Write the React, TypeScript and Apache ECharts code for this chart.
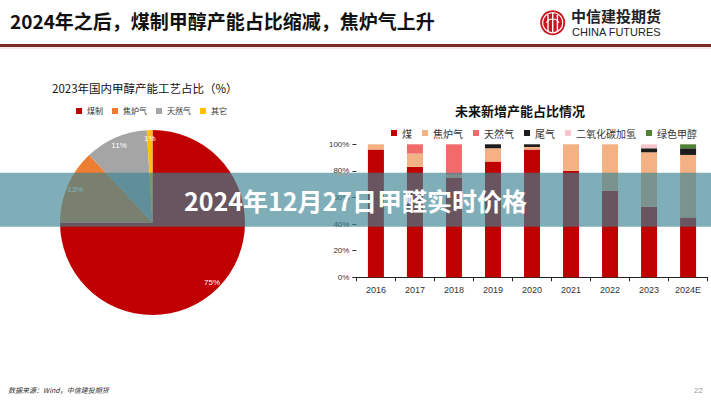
import React, { useEffect, useRef } from "react";
import * as echarts from "echarts";

const years = ["2016", "2017", "2018", "2019", "2020", "2021", "2022", "2023", "2024E"];
const coal = [96, 83, 75, 87, 96, 80, 65, 53, 45];
const coke = [4, 10, 2, 10, 2, 20, 35, 41, 47];
const gas = [0, 7, 23, 0, 0, 0, 0, 0, 0];
const tail = [0, 0, 0, 3, 2, 0, 0, 3, 5];
const co2 = [0, 0, 0, 0, 0, 0, 0, 3, 0];
const green = [0, 0, 0, 0, 0, 0, 0, 0, 3];
const barNames = ["煤", "焦炉气", "天然气", "尾气", "二氧化碳加氢", "绿色甲醇"];
const barColors = ["#C00000", "#F4B183", "#F26B6B", "#1C1C1C", "#F6C6CB", "#548235"];

const pieNames = ["煤制", "焦炉气", "天然气", "其它"];
const pieValues = [75, 13, 11, 1];
const pieColors = ["#C00000", "#ED7D31", "#A5A5A5", "#FFC000"];

const yTicks = [0, 20, 40, 60, 80, 100];

const CJK = "'Noto Sans CJK SC', 'Liberation Sans', sans-serif";
const LAT = "'Liberation Sans', 'Noto Sans CJK SC', sans-serif";

export default function App() {
  const ref = useRef<HTMLDivElement>(null);
  useEffect(() => {
    if (!ref.current) return;
    const chart = echarts.init(ref.current, undefined, { renderer: "svg" });
    const barSeriesData = [coal, coke, gas, tail, co2, green];
    const pieData = pieNames.map((n, i) => ({ name: n, value: pieValues[i], itemStyle: { color: pieColors[i] } }));
    const option: any = {
      animation: false,
      backgroundColor: "#ffffff",
      legend: [
        {
          left: 76,
          top: 107,
          padding: 0,
          itemWidth: 6,
          itemHeight: 6,
          itemGap: 9,
          icon: "rect",
          textStyle: { fontSize: 8, color: "#333", fontFamily: CJK },
          data: pieNames.map((n, i) => ({ name: n, itemStyle: { color: pieColors[i] } })),
          selectedMode: false,
        },
        {
          left: 391,
          top: 128,
          padding: 0,
          itemWidth: 6,
          itemHeight: 6,
          itemGap: 10,
          icon: "rect",
          textStyle: { fontSize: 10, color: "#333", fontFamily: CJK },
          data: barNames.map((n, i) => ({ name: n, itemStyle: { color: barColors[i] } })),
          selectedMode: false,
        },
      ],
      grid: { left: 356.4, right: 3.4, top: 144.3, bottom: 122.7, containLabel: false },
      xAxis: {
        type: "category",
        data: years,
        axisLine: { lineStyle: { color: "#222", width: 1 } },
        axisTick: { show: true, length: 4, lineStyle: { color: "#222" } },
        axisLabel: { fontSize: 9, color: "#333", margin: 8, fontFamily: LAT },
      },
      yAxis: {
        type: "value",
        min: yTicks[0],
        max: yTicks[yTicks.length - 1],
        interval: 20,
        axisLine: { show: false },
        axisTick: { show: true, length: 4, lineStyle: { color: "#333" } },
        splitLine: { show: false },
        axisLabel: { fontSize: 8, color: "#333", margin: 7, formatter: "{value}%", fontFamily: LAT },
      },
      series: [
        ...barNames.map((n, i) => ({
          name: n,
          type: "bar",
          stack: "total",
          barWidth: 16,
          data: barSeriesData[i],
          itemStyle: { color: barColors[i] },
          silent: true,
        })),
        {
          name: "pie",
          type: "pie",
          center: [152.5, 222.5],
          radius: [0, 92.5],
          startAngle: 90,
          clockwise: true,
          data: pieData,
          label: { show: false },
          labelLine: { show: false },
          itemStyle: { borderWidth: 0 },
          silent: true,
        },
        {
          name: "pieLabels",
          type: "pie",
          center: [152.5, 222.5],
          radius: [70, 92.5],
          startAngle: 90,
          clockwise: true,
          data: pieNames.map((n, i) => ({ name: n, value: pieValues[i], itemStyle: { color: "rgba(0,0,0,0)" } })),
          label: {
            show: true,
            position: "inside",
            formatter: "{c}%",
            fontSize: 8,
            color: "#ffffff",
            fontFamily: LAT,
          },
          labelLine: { show: false },
          itemStyle: { borderWidth: 0 },
          silent: true,
        },
      ],
      graphic: [
        {
          type: "text",
          left: 10,
          top: 11,
          style: { text: "2024年之后，煤制甲醇产能占比缩减，焦炉气上升", fontSize: 19, fontWeight: "bold", fill: "#111", fontFamily: CJK },
        },
        { type: "rect", shape: { x: 0, y: 44, width: 711, height: 3 }, style: { fill: "#7B2A2A" } },
        { type: "rect", shape: { x: 0, y: 47, width: 711, height: 2 }, style: { fill: "#F3E6E6" } },
        // logo
        { type: "circle", shape: { cx: 552.7, cy: 22.7, r: 12.5 }, style: { fill: "#C8161D" } },
        { type: "circle", shape: { cx: 552.7, cy: 22.7, r: 10 }, style: { fill: "none", stroke: "#fff", lineWidth: 1.2 } },
        { type: "line", shape: { x1: 548, y1: 15, x2: 548, y2: 31 }, style: { stroke: "#fff", lineWidth: 1.4 } },
        { type: "line", shape: { x1: 552.7, y1: 13, x2: 552.7, y2: 32 }, style: { stroke: "#fff", lineWidth: 1.4 } },
        { type: "line", shape: { x1: 557.4, y1: 15, x2: 557.4, y2: 31 }, style: { stroke: "#fff", lineWidth: 1.4 } },
        { type: "arc", shape: { cx: 552.7, cy: 26, r: 7, startAngle: Math.PI * 1.15, endAngle: Math.PI * 1.85 }, style: { stroke: "#fff", lineWidth: 1.2, fill: "none" } },
        {
          type: "text",
          left: 571,
          top: 8,
          style: { text: "中信建投期货", fontSize: 15, fontWeight: "bold", fill: "#222", fontFamily: CJK },
        },
        {
          type: "text",
          left: 572,
          top: 26,
          style: { text: "CHINA FUTURES", fontSize: 11, fill: "#222", fontFamily: LAT },
        },
        // subtitles
        {
          type: "text",
          left: 52,
          top: 82,
          style: { text: "2023年国内甲醇产能工艺占比（%）", fontSize: 11.5, fill: "#111", fontFamily: CJK },
        },
        {
          type: "text",
          x: 520,
          y: 110.7,
          style: { text: "未来新增产能占比情况", fontSize: 13, fill: "#111", fontFamily: CJK, align: "center", verticalAlign: "middle", fontWeight: "bold" },
        },
        // footer
        {
          type: "text",
          left: 8,
          top: 386,
          style: { text: "数据来源：Wind，中信建投期货", fontSize: 7, fill: "#333", fontStyle: "italic", fontFamily: CJK },
        },
        {
          type: "text",
          left: 694,
          top: 386,
          style: { text: "22", fontSize: 8, fill: "#999", fontFamily: LAT },
        },
        // overlay band
        {
          type: "rect",
          z: 100,
          shape: { x: 0, y: 172.7, width: 711, height: 54 },
          style: { fill: "rgba(58,131,146,0.65)" },
        },
        {
          type: "text",
          z: 101,
          x: 355.5,
          y: 200,
          style: {
            text: "2024年12月27日甲醛实时价格",
            fontSize: 25,
            fontWeight: "bold",
            fill: "#ffffff",
            fontFamily: CJK,
            align: "center",
            verticalAlign: "middle",
          },
        },
      ],
    };
    chart.setOption(option);
    return () => chart.dispose();
  }, []);
  return (
    <div
      ref={ref}
      style={{ position: "fixed", left: 0, top: 0, width: 711, height: 400, background: "#fff" }}
    />
  );
}
